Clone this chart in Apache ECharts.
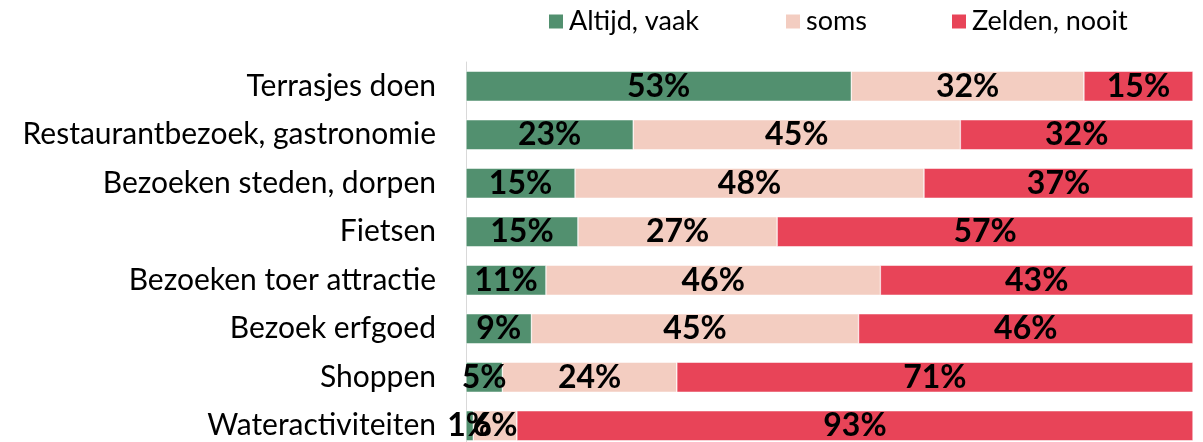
<!doctype html>
<html>
<head>
    <meta charset="utf-8">
    <title>Activiteiten</title>
    <script src="https://cdn.jsdelivr.net/npm/echarts@6/dist/echarts.min.js"></script>
    <style>
        html, body{
            margin:0;
            padding:0;
            background:#fff;
            overflow:hidden;
        }
        /* a bit taller than the window: the last bar is cut off like in the original */
        #chart{
            width:1203px;
            height:450px;
        }
    </style>
</head>
<body>
<div id="chart"></div>
<script>
    var categories = ['Terrasjes doen', 'Restaurantbezoek, gastronomie', 'Bezoeken steden, dorpen', 'Fietsen',
        'Bezoeken toer attractie', 'Bezoek erfgoed', 'Shoppen', 'Wateractiviteiten'];
    var seriesNames = ['Altijd, vaak', 'soms', 'Zelden, nooit'];
    // percentages per category (Fietsen estimated with decimals, labels round to 15/27/57)
    var vaak   = [53, 23, 15, 15.4, 11, 9, 5, 1];
    var soms   = [32, 45, 48, 27.4, 46, 45, 24, 6];
    var zelden = [15, 32, 37, 57.2, 43, 46, 71, 93];
    var colors = ['#52906f', '#f3cdc1', '#e84458'];

    var font = 'Lato';

    function serie(name, data, color){
        return {
            name: name,
            type: 'bar',
            stack: 'tot',
            barWidth: 30,
            data: data,
            itemStyle: {
                color: color,
                borderColor: '#fff',
                borderWidth: 0.5
            },
            label: {
                show: true,
                position: 'inside',
                color: '#000',
                fontFamily: font,
                fontWeight: 'bold',
                fontSize: 32,
                formatter: function(p){ return Math.round(p.value) + '%'; }
            }
        };
    }

    // one legend per item so the spacing follows the original
    function legend(name, left){
        return {
            top: 3,
            left: left,
            itemWidth: 16,
            itemHeight: 16,
            itemGap: 0,
            icon: 'rect',
            textStyle: {
                color: '#000',
                fontFamily: font,
                fontSize: 27
            },
            data: [name]
        };
    }

    var myChart = echarts.init(document.getElementById('chart'));
    var option = {
        animation: false,
        color: colors,
        legend: [
            legend(seriesNames[0], 542),
            legend(seriesNames[1], 779),
            legend(seriesNames[2], 945)
        ],
        grid: {
            left: 466,
            right: 10,
            top: 62,
            bottom: 0
        },
        xAxis: {
            type: 'value',
            min: 0,
            max: 100,
            show: false
        },
        yAxis: {
            type: 'category',
            inverse: true,
            data: categories,
            axisLine: { show: true, lineStyle: { color: '#d9d9d9', width: 1 } },
            axisTick: { show: false },
            axisLabel: {
                margin: 30,
                color: '#000',
                fontFamily: font,
                fontSize: 30
            }
        },
        series: [
            serie(seriesNames[0], vaak, colors[0]),
            serie(seriesNames[1], soms, colors[1]),
            serie(seriesNames[2], zelden, colors[2])
        ]
    };
    myChart.setOption(option, true);
</script>
</body>
</html>
